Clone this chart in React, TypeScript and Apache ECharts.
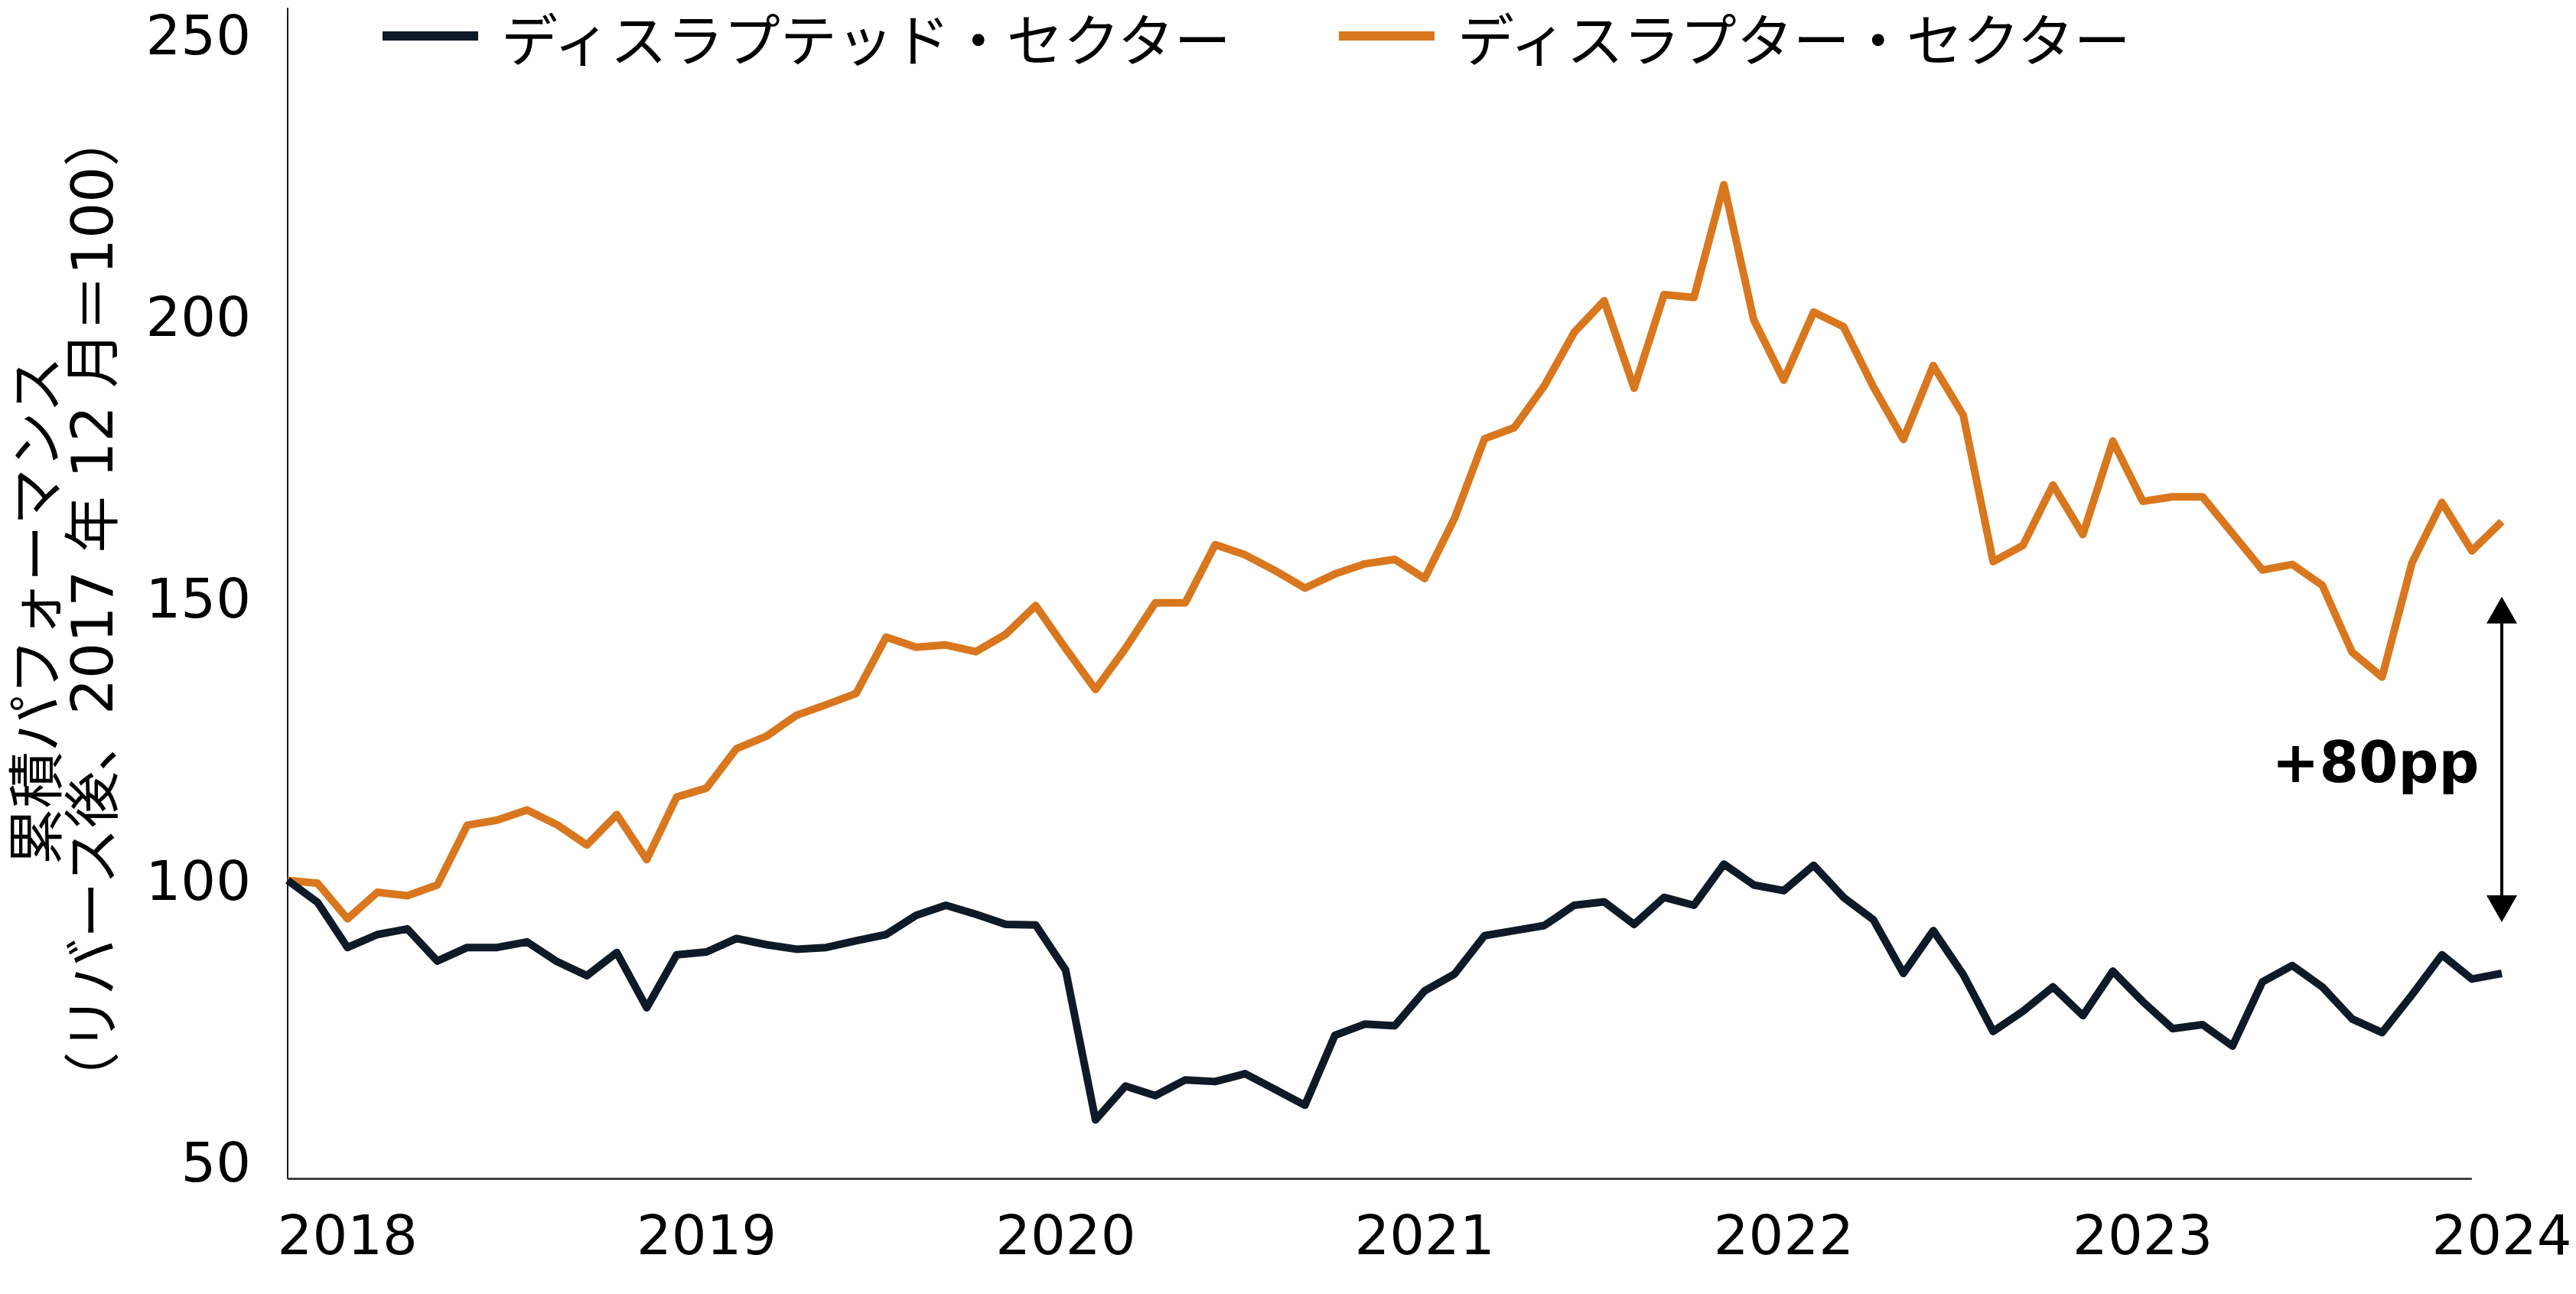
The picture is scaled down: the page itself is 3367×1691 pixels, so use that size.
import React, { useEffect, useRef } from "react";
import * as echarts from "echarts";

const categories = [
  "2017-12",
  "2018-01", "2018-02", "2018-03", "2018-04", "2018-05", "2018-06", "2018-07", "2018-08", "2018-09", "2018-10", "2018-11", "2018-12",
  "2019-01", "2019-02", "2019-03", "2019-04", "2019-05", "2019-06", "2019-07", "2019-08", "2019-09", "2019-10", "2019-11", "2019-12",
  "2020-01", "2020-02", "2020-03", "2020-04", "2020-05", "2020-06", "2020-07", "2020-08", "2020-09", "2020-10", "2020-11", "2020-12",
  "2021-01", "2021-02", "2021-03", "2021-04", "2021-05", "2021-06", "2021-07", "2021-08", "2021-09", "2021-10", "2021-11", "2021-12",
  "2022-01", "2022-02", "2022-03", "2022-04", "2022-05", "2022-06", "2022-07", "2022-08", "2022-09", "2022-10", "2022-11", "2022-12",
  "2023-01", "2023-02", "2023-03", "2023-04", "2023-05", "2023-06", "2023-07", "2023-08", "2023-09", "2023-10", "2023-11", "2023-12",
  "2024-01", "2024-02",
];

const disrupted = [
  100, 96.1, 88.1, 90.4, 91.4, 85.7, 88.1, 88.1, 89.1, 85.6,
  83.1, 87.2, 77.4, 86.8, 87.3, 89.7, 88.6, 87.8, 88.1, 89.3,
  90.4, 93.8, 95.6, 94.0, 92.2, 92.1, 84.1, 57.5, 63.5, 61.8,
  64.6, 64.3, 65.7, 62.9, 60.1, 72.5, 74.5, 74.2, 80.4, 83.4,
  90.2, 91.1, 92.0, 95.6, 96.2, 92.2, 97.0, 95.6, 102.9, 99.2,
  98.2, 102.7, 97.0, 93.0, 83.5, 91.1, 83.3, 73.2, 76.8, 81.1,
  76.0, 83.9, 78.5, 73.7, 74.4, 70.6, 82.0, 84.9, 81.1, 75.4,
  73.0, 79.7, 86.8, 82.5, 83.5,
];

const disruptor = [
  100, 99.5, 93.2, 97.9, 97.3, 99.2, 109.8, 110.7, 112.5, 109.9,
  106.3, 111.7, 103.7, 114.8, 116.4, 123.4, 125.6, 129.3, 131.2, 133.2,
  143.2, 141.4, 141.8, 140.6, 143.7, 148.8, 141.2, 133.9, 141.2, 149.3,
  149.3, 159.6, 157.8, 155.0, 151.9, 154.4, 156.2, 157.0, 153.6, 164.3,
  178.4, 180.4, 187.8, 197.3, 202.9, 187.4, 204.0, 203.5, 223.5, 199.5,
  188.8, 200.9, 198.3, 187.6, 178.3, 191.4, 182.6, 156.6, 159.5, 170.2,
  161.4, 178.0, 167.3, 168.1, 168.1, 161.6, 155.1, 156.1, 152.4, 140.5,
  136.1, 156.4, 167.1, 158.5, 163.7,
];

const seriesNames = ["ディスラプテッド・セクター", "ディスラプター・セクター"];
const yTicks = [50, 100, 150, 200, 250];
const xTickLabels = ["2018", "2019", "2020", "2021", "2022", "2023", "2024"];
const yTitleLines = ["累積パフォーマンス", "（リバース後、2017 年 12 月＝100）"];
const gapLabel = "+80pp";
const gapArrow = [148, 95];

const Y_MIN = 47.1;
const Y_MAX = 254.8;
const NAVY = "#0E1A28";
const ORANGE = "#D9771E";
const LATIN = "Verdana, 'DejaVu Sans', sans-serif";
const CJK = "'Noto Sans CJK JP', 'Noto Sans', sans-serif";
const MIXED = "Verdana, 'DejaVu Sans', 'Noto Sans CJK JP', sans-serif";

export default function App() {
  const ref = useRef<HTMLDivElement>(null);

  useEffect(() => {
    document.body.style.margin = "0";
    if (!ref.current) return;
    const chart = echarts.init(ref.current, null, { renderer: "svg" });
    const lastCat = categories[categories.length - 1];
    chart.setOption({
      animation: false,
      backgroundColor: "#ffffff",
      grid: { left: 376, right: 97, top: 11, bottom: 151, containLabel: false },
      legend: {
        left: 500,
        top: 1,
        padding: 0,
        icon: "rect",
        itemWidth: 125,
        itemHeight: 12,
        itemGap: 133,
        data: seriesNames,
        textStyle: {
          fontSize: 74,
          fontFamily: CJK,
          color: "#000",
          lineHeight: 80,
          padding: [0, 0, 12, 25],
        },
      },
      xAxis: {
        type: "category",
        data: categories,
        boundaryGap: false,
        axisLine: { show: false },
        axisTick: { show: false },
        splitLine: { show: false },
        axisLabel: {
          interval: (index: number) => index % 12 === 2,
          formatter: (_v: string, index: number) => xTickLabels[Math.round((index - 2) / 12)] ?? "",
          fontSize: 72,
          fontFamily: LATIN,
          color: "#000",
          margin: 38,
        },
      },
      yAxis: {
        type: "value",
        min: Y_MIN,
        max: Y_MAX,
        axisLine: { show: true, lineStyle: { color: "#1a1a1a", width: 2 } },
        axisTick: { show: false },
        splitLine: { show: false },
        axisLabel: {
          customValues: yTicks,
          fontSize: 72,
          fontFamily: LATIN,
          color: "#000",
          margin: 48,
        },
      },
      series: [
        {
          name: seriesNames[0],
          type: "line",
          data: disrupted,
          showSymbol: false,
          symbol: "none",
          clip: false,
          color: NAVY,
          lineStyle: { color: NAVY, width: 10, join: "round", cap: "butt" },
          z: 3,
          markLine: {
            silent: true,
            symbol: ["none", "none"],
            label: { show: false },
            lineStyle: { color: "#222", width: 2.5, type: "solid" },
            data: [[{ coord: [categories[0], Y_MIN] }, { coord: [categories[73], Y_MIN] }]],
          },
        },
        {
          name: seriesNames[1],
          type: "line",
          data: disruptor,
          showSymbol: false,
          symbol: "none",
          clip: false,
          color: ORANGE,
          lineStyle: { color: ORANGE, width: 10, join: "round", cap: "butt" },
          z: 2,
          markLine: {
            silent: true,
            symbol: ["triangle", "triangle"],
            symbolSize: [40, 35],
            label: { show: false },
            lineStyle: { color: "#000", width: 4, type: "solid" },
            itemStyle: { color: "#000" },
            data: [[{ coord: [lastCat, gapArrow[0]] }, { coord: [lastCat, gapArrow[1]] }]],
          },
        },
      ],
      graphic: [
        {
          type: "text",
          x: 41,
          y: 798,
          rotation: Math.PI / 2,
          style: {
            text: yTitleLines[0],
            font: `74px ${CJK}`,
            fill: "#000",
            textAlign: "center",
            textVerticalAlign: "middle",
          },
        },
        {
          type: "text",
          x: 121,
          y: 796,
          rotation: Math.PI / 2,
          style: {
            text: yTitleLines[1],
            font: `74px ${MIXED}`,
            fill: "#000",
            textAlign: "center",
            textVerticalAlign: "middle",
          },
        },
        {
          type: "text",
          x: 3105,
          y: 996,
          style: {
            text: gapLabel,
            font: `bold 74px ${LATIN}`,
            fill: "#000",
            textAlign: "center",
            textVerticalAlign: "middle",
          },
        },
      ],
    });
    return () => chart.dispose();
  }, []);

  return <div ref={ref} style={{ width: 3367, height: 1691 }} />;
}
